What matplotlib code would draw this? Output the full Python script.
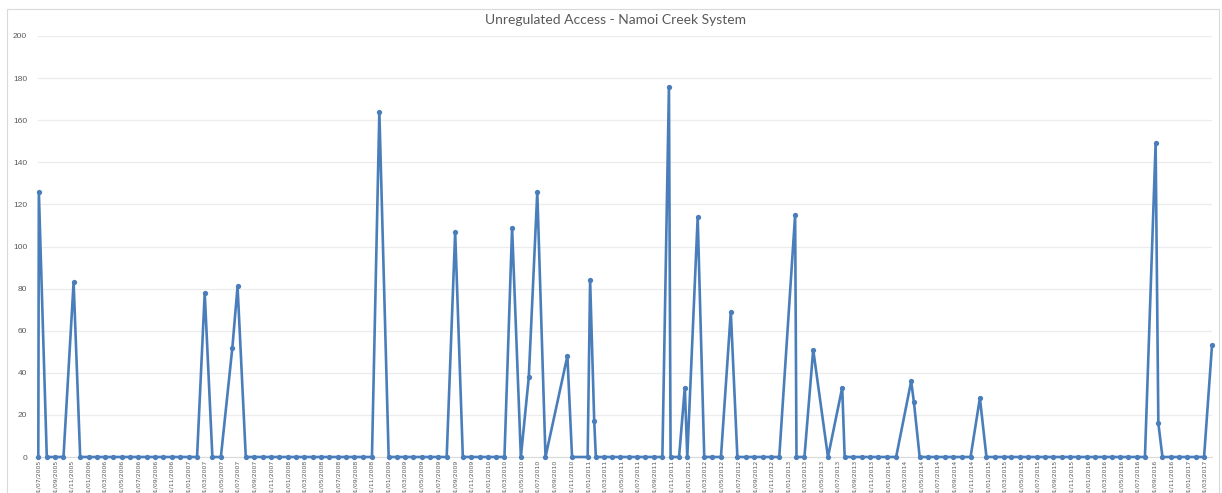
import pandas as pd
import matplotlib.pyplot as plt
import matplotlib.dates as mdates
from matplotlib.patches import Rectangle

# Unregulated access events, Namoi Creek system (ML per event)
dates = [
    '2005-07-01', '2005-07-03', '2005-08-01', '2005-09-01', '2005-10-01', '2005-11-07', '2005-12-01',
    '2006-01-01', '2006-02-01', '2006-03-01', '2006-04-01', '2006-05-01', '2006-06-01',
    '2006-07-01', '2006-08-01', '2006-09-01', '2006-10-01', '2006-11-01', '2006-12-01',
    '2007-01-01', '2007-02-01', '2007-03-01', '2007-03-29', '2007-04-29', '2007-06-10', '2007-06-29',
    '2007-07-29', '2007-08-29', '2007-09-29', '2007-10-29', '2007-11-29', '2007-12-29',
    '2008-01-29', '2008-02-28', '2008-03-29', '2008-04-29', '2008-05-29', '2008-06-29',
    '2008-07-29', '2008-08-29', '2008-09-29', '2008-11-01', '2008-11-28',
    '2009-01-01', '2009-02-01', '2009-03-01', '2009-04-01', '2009-05-01', '2009-06-01',
    '2009-07-01', '2009-08-01', '2009-09-01', '2009-09-29', '2009-10-29', '2009-11-29', '2009-12-29',
    '2010-01-29', '2010-02-28', '2010-03-28', '2010-04-29', '2010-05-28', '2010-06-28',
    '2010-07-28', '2010-10-16', '2010-11-02', '2010-12-29',
    '2011-01-07', '2011-01-22', '2011-01-28', '2011-02-28', '2011-03-28', '2011-04-28',
    '2011-05-28', '2011-06-28', '2011-07-28', '2011-08-28', '2011-09-28', '2011-10-22',
    '2011-10-28', '2011-11-28', '2011-12-19', '2011-12-28',
    '2012-02-04', '2012-02-28', '2012-03-28', '2012-04-29', '2012-06-04', '2012-06-28',
    '2012-07-28', '2012-08-28', '2012-09-28', '2012-10-28', '2012-11-28',
    '2013-01-25', '2013-01-30', '2013-02-28', '2013-04-01', '2013-05-25', '2013-07-16',
    '2013-07-25', '2013-08-25', '2013-09-25', '2013-10-25', '2013-11-25', '2013-12-25',
    '2014-01-29', '2014-03-25', '2014-04-04', '2014-04-25', '2014-05-25', '2014-06-25',
    '2014-07-25', '2014-08-25', '2014-09-25', '2014-10-28', '2014-12-01', '2014-12-25',
    '2015-01-26', '2015-02-26', '2015-03-26', '2015-04-26', '2015-05-26', '2015-06-26',
    '2015-07-26', '2015-08-26', '2015-09-26', '2015-10-26', '2015-11-26', '2015-12-26',
    '2016-01-26', '2016-02-26', '2016-03-26', '2016-04-26', '2016-05-26', '2016-06-26',
    '2016-07-26', '2016-09-03', '2016-09-13', '2016-09-28', '2016-10-28', '2016-11-28', '2016-12-28',
    '2017-01-28', '2017-02-27', '2017-03-28',
]
volumes = [
    0, 126, 0, 0, 0, 83, 0,
    0, 0, 0, 0, 0, 0,
    0, 0, 0, 0, 0, 0,
    0, 0, 78, 0, 0, 52, 81,
    0, 0, 0, 0, 0, 0,
    0, 0, 0, 0, 0, 0,
    0, 0, 0, 0, 164,
    0, 0, 0, 0, 0, 0,
    0, 0, 107, 0, 0, 0, 0,
    0, 0, 109, 0, 38, 126,
    0, 48, 0, 0,
    84, 17, 0, 0, 0, 0,
    0, 0, 0, 0, 0, 176,
    0, 0, 33, 0,
    114, 0, 0, 0, 69, 0,
    0, 0, 0, 0, 0,
    115, 0, 0, 51, 0, 33,
    0, 0, 0, 0, 0, 0,
    0, 36, 26, 0, 0, 0,
    0, 0, 0, 0, 28, 0,
    0, 0, 0, 0, 0, 0,
    0, 0, 0, 0, 0, 0,
    0, 0, 0, 0, 0, 0,
    0, 149, 16, 0, 0, 0, 0,
    0, 0, 53,
]

x = pd.to_datetime(dates)
blue = '#4a7ebb'
grey = '#595959'

fig = plt.figure(figsize=(12.22, 4.93), dpi=100)
W, H = 1222, 493
ax = fig.add_axes([38.3 / W, (H - 457) / H, (1212 - 38.3) / W, (457 - 36) / H])

# chart frame
fig.patches.append(Rectangle((7 / W, -0.05), (1219 - 7) / W, 1.05 - 9 / H,
                             transform=fig.transFigure, fill=False,
                             edgecolor='#d9d9d9', linewidth=0.8))

ax.plot(x, volumes, color=blue, linewidth=1.9, marker='o', markersize=3.8,
        markeredgewidth=0, clip_on=False, zorder=3)

ax.set_ylim(0, 200)
ax.set_yticks(range(0, 201, 20))
ax.set_xlim(x[0], x[-1])
ax.xaxis.set_major_locator(mdates.MonthLocator(bymonth=[1, 3, 5, 7, 9, 11]))
ax.xaxis.set_major_formatter(mdates.DateFormatter('%d/%m/%Y'))

ax.grid(axis='y', color='#ececec', linewidth=0.9)
ax.set_axisbelow(True)
for side in ['top', 'right', 'left']:
    ax.spines[side].set_visible(False)
ax.spines['bottom'].set_color('#d9d9d9')

ax.tick_params(axis='y', length=0, pad=8, labelsize=6, labelcolor=grey)
ax.tick_params(axis='x', length=0, pad=2, labelsize=4.4, labelcolor=grey, rotation=90)
for lab in ax.get_xticklabels():
    lab.set_family(['Liberation Sans Narrow', 'DejaVu Sans'])
for lab in ax.get_yticklabels():
    lab.set_family(['Liberation Sans', 'DejaVu Sans'])

fig.text(615 / W, 1 - 20 / H, 'Unregulated Access - Namoi Creek System',
         ha='center', va='center', fontsize=10, color=grey, family=['Lato', 'DejaVu Sans'])

fig.savefig('out.png', dpi=100)
